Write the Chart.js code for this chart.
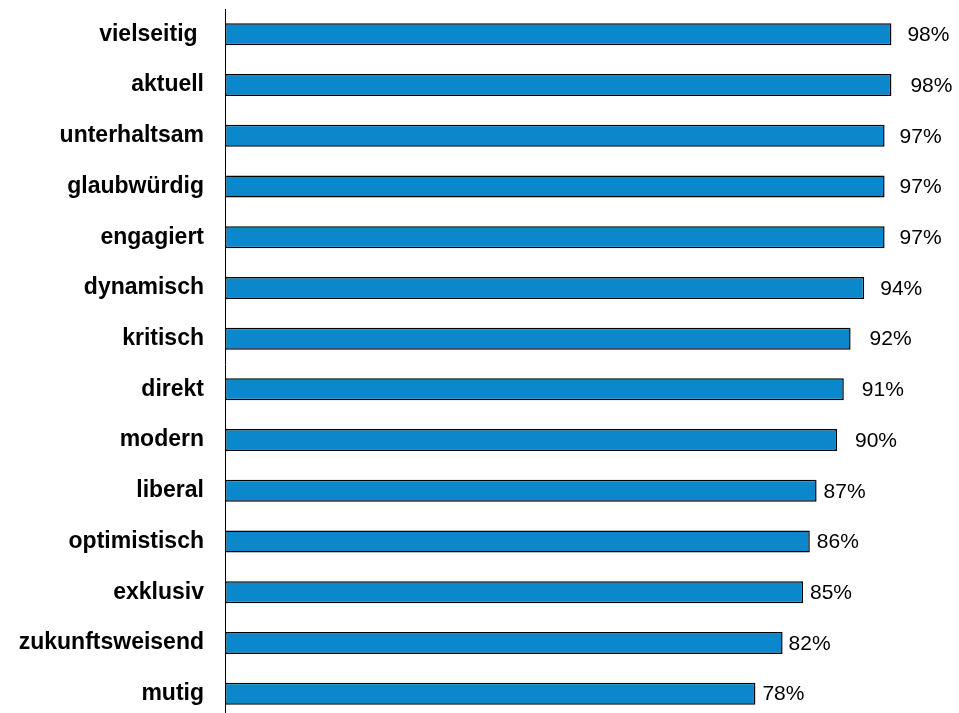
<!DOCTYPE html>
<html>
<head>
<meta charset="utf-8">
<script src="https://cdn.jsdelivr.net/npm/chart.js@4"></script>
<style>
  html, body { margin: 0; padding: 0; background: #fff; overflow: hidden; }
</style>
</head>
<body>
<canvas id="chart" width="959" height="724"></canvas>
<script>
const categories = ['vielseitig ', 'aktuell', 'unterhaltsam', 'glaubwürdig', 'engagiert', 'dynamisch',
    'kritisch', 'direkt', 'modern', 'liberal', 'optimistisch', 'exklusiv', 'zukunftsweisend', 'mutig'];
const values = [98, 98, 97, 97, 97, 94, 92, 91, 90, 87, 86, 85, 82, 78];

// gap between bar end and its label, as in the original
const labelGaps = [16, 19, 15, 15, 15, 16, 19, 18, 18, 7, 7, 7, 6, 7];

const valueLabels = {
    id: 'valueLabels',
    afterDatasetsDraw(chart) {
        const ctx = chart.ctx;
        const meta = chart.getDatasetMeta(0);
        ctx.save();
        ctx.font = '21px "Liberation Sans", Arial, sans-serif';
        ctx.fillStyle = '#000';
        ctx.textAlign = 'left';
        ctx.textBaseline = 'middle';
        meta.data.forEach((bar, i) => {
            ctx.fillText(values[i] + '%', bar.x + labelGaps[i], bar.y + 1);
        });
        ctx.restore();
    }
};

new Chart(document.getElementById('chart').getContext('2d'), {
    type: 'bar',
    data: {
        labels: categories,
        datasets: [{
            data: values,
            backgroundColor: '#0a88cb',
            borderColor: '#000',
            borderWidth: 1.5,
            borderSkipped: false,
            barPercentage: 0.434,
            categoryPercentage: 1
        }]
    },
    options: {
        indexAxis: 'y',
        responsive: false,
        animation: false,
        layout: { padding: { top: 9, bottom: 5, right: 54, left: 0 } },
        plugins: {
            legend: { display: false },
            tooltip: { enabled: false }
        },
        scales: {
            x: { display: false, min: 0, max: 100 },
            y: {
                afterFit: (scale) => {
                    scale.width = 225;
                    scale.paddingTop = 0;
                    scale.paddingBottom = 0;
                },
                grid: { display: false, drawTicks: false },
                border: { display: true, color: '#000', width: 1 },
                ticks: {
                    padding: 21,
                    color: '#000',
                    font: { family: '"Liberation Sans", Arial, sans-serif', size: 23, weight: 'bold' }
                }
            }
        }
    },
    plugins: [valueLabels]
});
</script>
</body>
</html>
